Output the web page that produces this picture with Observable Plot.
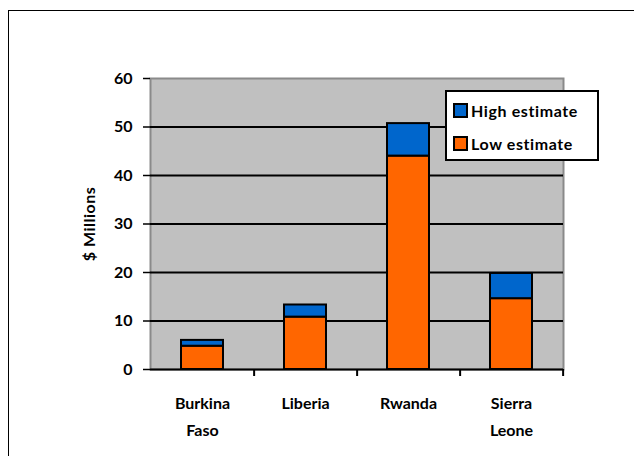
<!DOCTYPE html>
<html><head><meta charset="utf-8">
<script src="https://cdn.jsdelivr.net/npm/d3@7"></script>
<script src="https://cdn.jsdelivr.net/npm/@observablehq/plot@0.6"></script>
<style>
body{margin:0;background:#fff;overflow:hidden;width:634px;height:456px;position:relative;font-family:Lato,"Open Sans",sans-serif}
#frame{position:absolute;left:8px;top:10px;width:700px;height:600px;border:1.5px solid #000;box-sizing:border-box}
#chart{position:absolute;left:0;top:0}
#legend{position:absolute;left:445px;top:90px;width:154px;height:71px;background:#fff;border:2px solid #000;box-sizing:border-box;font-weight:700;font-size:16px;letter-spacing:0.6px}
.item{position:absolute;left:6px;display:flex;align-items:center}
.sw{width:15px;height:15px;border:2px solid #000;box-sizing:border-box;margin-right:3px}
</style></head>
<body>
<div id="frame"></div>
<div id="chart"></div>
<div id="legend"></div>
<script>
const countries = ["Burkina Faso", "Liberia", "Rwanda", "Sierra Leone"];
const countryLabels = ["Burkina\nFaso", "Liberia", "Rwanda", "Sierra\nLeone"];
const lowEstimate = [4.8, 10.8, 44.0, 14.6];
const highEstimate = [6.0, 13.3, 50.7, 19.8];
const yTicks = [0, 10, 20, 30, 40, 50, 60];
const seriesNames = ["High estimate", "Low estimate"];
const seriesColors = ["#0066cc", "#ff6600"];

const rows = countries.map((c, i) => ({country: c, label: countryLabels[i], low: lowEstimate[i], high: highEstimate[i]}));
const step = (563 - 150) / countries.length;

const chart = Plot.plot({
  width: 634, height: 456,
  marginLeft: 150, marginRight: 71, marginTop: 78, marginBottom: 87,
  style: {fontFamily: "Lato, 'Open Sans', sans-serif", background: "transparent"},
  x: {domain: countries, paddingInner: 0.59, paddingOuter: 0.295, axis: null},
  y: {domain: [0, 60], ticks: yTicks, axis: null},
  marks: [
    Plot.frame({fill: "#c0c0c0", stroke: "#8a8a8a", strokeWidth: 2}),
    Plot.gridY(yTicks.filter(t => t > 0 && t < 60), {stroke: "#000", strokeOpacity: 1, strokeWidth: 2}),
    Plot.axisY({ticks: yTicks, tickSize: 7, tickPadding: 11, fontSize: 16, fontWeight: 700, letterSpacing: 0.5,
      label: "$ Millions", labelAnchor: "center", labelArrow: "none", labelOffset: 67, strokeWidth: 1.5}),
    Plot.barY(rows, {x: "country", y1: 0, y2: "low", fill: seriesColors[1], stroke: "#000", strokeWidth: 2}),
    Plot.barY(rows, {x: "country", y1: "low", y2: "high", fill: seriesColors[0], stroke: "#000", strokeWidth: 2}),
    Plot.ruleX([0], {frameAnchor: "left", stroke: "#000", strokeWidth: 2, insetBottom: -7}),
    Plot.ruleY([0], {stroke: "#000", strokeWidth: 2}),
    Plot.ruleX(countries, {x: d => d, dx: step / 2, y1: 0, y2: 0, insetBottom: -7, stroke: "#000", strokeWidth: 2}),
    Plot.text(rows, {x: "country", text: "label", frameAnchor: "bottom", lineAnchor: "top", dy: 20, lineHeight: 1.69, fontSize: 16, fontWeight: 700, letterSpacing: 0.7, fill: "#000"})
  ]
});
document.getElementById("chart").appendChild(chart);
chart.querySelectorAll("text").forEach(t => { if (t.textContent === "$ Millions") { t.style.fontSize = "16px"; t.style.fontWeight = "700"; t.style.letterSpacing = "0.5px"; } });

const lg = document.getElementById("legend");
seriesNames.forEach((n, i) => {
  const d = document.createElement("div");
  d.className = "item";
  d.style.top = (i === 0 ? 9 : 42) + "px";
  d.innerHTML = `<div class="sw" style="background:${seriesColors[i]}"></div><span>${n}</span>`;
  lg.appendChild(d);
});
</script>
</body></html>
